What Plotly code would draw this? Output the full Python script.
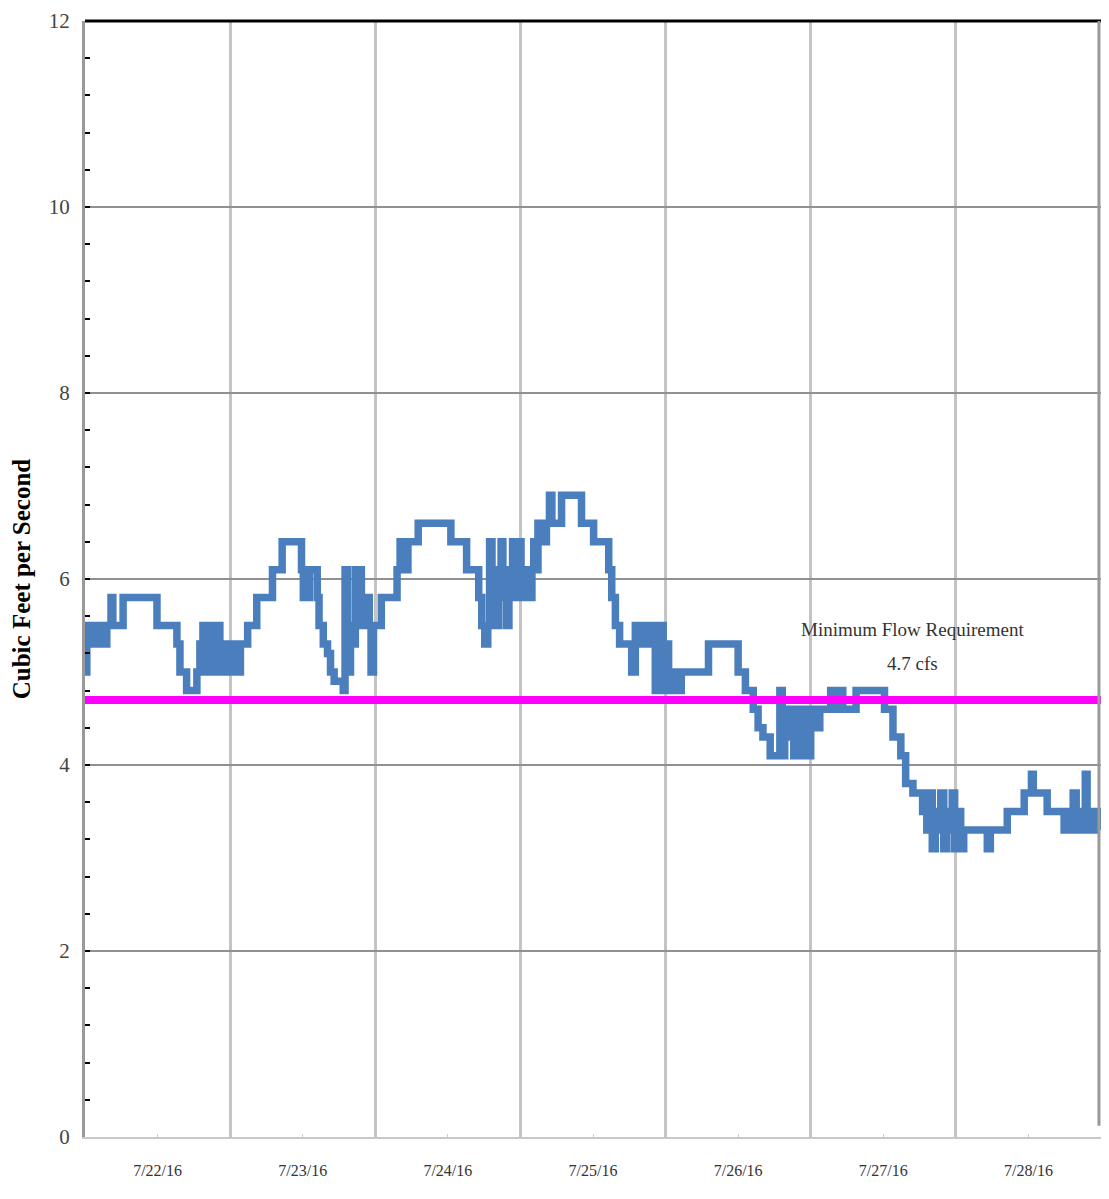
import pandas as pd
import plotly.graph_objects as go

# Hours after 2016-07-22 00:00 and flow in cubic feet per second (step series)
hours = [0, 0.3, 0.7, 1.0, 1.3, 1.6, 2.1, 2.6, 3.1, 3.6, 4.3, 4.6, 6.3, 11.9, 15.2, 15.7, 16.8,
         18.5, 19.0, 19.5, 20.1, 20.6, 21.1, 21.8, 22.3, 22.8, 23.2, 23.7, 24.4, 25.1, 25.7,
         26.9, 28.4, 31.0, 32.6, 35.8, 36.1, 36.4, 36.8, 37.1, 38.4, 38.7, 39.4, 40.1, 40.6,
         41.2, 42.7, 43.0, 43.4, 43.9, 44.4, 44.7, 45.0, 45.3, 45.7, 46.0, 46.5, 47.0, 47.3,
         47.7, 48.1, 49.0, 51.6, 52.1, 52.4, 52.8, 53.1, 53.4, 55.1, 60.5, 63.1, 65.1, 65.6,
         66.1, 66.6, 66.9, 67.3, 67.8, 68.1, 68.4, 68.8, 69.1, 69.4, 69.7, 70.1, 70.4, 70.7,
         71.1, 71.4, 71.7, 72.1, 72.4, 72.7, 73.0, 73.4, 73.9, 74.2, 74.5, 74.9, 75.2, 75.5,
         76.0, 76.3, 76.8, 77.2, 78.8, 82.1, 84.1, 86.6, 87.1, 87.7, 88.4, 90.4, 91.0, 91.7,
         92.3, 93.2, 93.7, 94.3, 94.6, 95.0, 95.3, 95.6, 96.1, 96.5, 97.0, 97.3, 97.8, 98.1,
         98.6, 103.1, 108.0, 109.2, 110.5, 111.3, 112.1, 113.3, 114.9, 115.3, 115.7, 116.2,
         116.7, 117.2, 117.7, 118.2, 118.7, 119.2, 119.5, 120.0, 120.5, 121.0, 121.5, 123.3,
         123.8, 124.3, 125.3, 127.5, 132.2, 133.6, 134.9, 135.7, 136.9, 138.5, 139.2, 139.7,
         140.1, 140.6, 141.1, 141.5, 142.0, 142.5, 143.0, 143.4, 143.8, 144.3, 144.8, 145.3,
         149.2, 149.7, 152.5, 155.3, 156.5, 156.8, 159.1, 161.9, 162.4, 162.9, 163.4, 163.9,
         164.4, 164.9, 165.4, 165.7, 166.2, 166.7, 167.2, 167.8]
flow = [5.0, 5.5, 5.3, 5.5, 5.3, 5.5, 5.3, 5.5, 5.3, 5.5, 5.8, 5.5, 5.8, 5.5, 5.3, 5.0, 4.8,
        5.0, 5.3, 5.5, 5.0, 5.5, 5.0, 5.5, 5.3, 5.0, 5.3, 5.0, 5.3, 5.0, 5.3,
        5.5, 5.8, 6.1, 6.4, 6.1, 5.8, 6.1, 5.8, 6.1, 5.8, 5.5, 5.3, 5.2, 5.0,
        4.9, 4.8, 6.1, 5.0, 5.5, 5.3, 6.1, 5.5, 6.1, 5.8, 5.5, 5.8, 5.5, 5.0,
        5.5, 5.5, 5.8, 6.1, 6.4, 6.1, 6.4, 6.1, 6.4, 6.6, 6.4, 6.1, 5.8, 5.5,
        5.3, 5.5, 6.4, 5.8, 6.1, 5.5, 6.1, 6.4, 5.8, 6.1, 5.5, 6.1, 5.8, 6.4,
        5.8, 6.1, 6.4, 5.8, 6.1, 5.8, 6.1, 5.8, 6.1, 6.4, 6.1, 6.6, 6.4, 6.6,
        6.4, 6.6, 6.9, 6.6, 6.9, 6.6, 6.4, 6.1, 5.8, 5.5, 5.3, 5.0, 5.5, 5.3,
        5.5, 5.3, 5.5, 4.8, 5.3, 4.8, 5.5, 4.8, 5.3, 4.8, 5.0, 4.8, 5.0, 4.8,
        5.0, 5.3, 5.0, 4.8, 4.6, 4.4, 4.3, 4.1, 4.8, 4.1, 4.6, 4.3,
        4.6, 4.1, 4.6, 4.1, 4.4, 4.6, 4.1, 4.4, 4.6, 4.4, 4.6, 4.8,
        4.6, 4.8, 4.6, 4.8, 4.6, 4.3, 4.1, 3.8, 3.7, 3.5, 3.3, 3.7,
        3.1, 3.5, 3.3, 3.7, 3.1, 3.5, 3.3, 3.7, 3.1, 3.5, 3.1, 3.3,
        3.1, 3.3, 3.5, 3.7, 3.9, 3.7, 3.5, 3.3, 3.5, 3.3, 3.7, 3.3,
        3.5, 3.3, 3.9, 3.3, 3.5, 3.3, 3.5, 3.3]

min_flow = 4.7
day_labels = ["7/22/16", "7/23/16", "7/24/16", "7/25/16", "7/26/16", "7/27/16", "7/28/16"]
y_ticks = [0, 2, 4, 6, 8, 10, 12]

start = pd.Timestamp("2016-07-22 00:00")
end = pd.Timestamp("2016-07-29 00:00")
times = [start + pd.Timedelta(hours=h) for h in hours]
label_pos = [start + pd.Timedelta(days=i, hours=12) for i in range(len(day_labels))]

serif = "Liberation Serif, Times New Roman, serif"

fig = go.Figure()
fig.add_trace(go.Scatter(
    x=times, y=flow, mode="lines", line=dict(color="#4a7ebd", width=7.5, shape="hv"),
    showlegend=False))
fig.add_trace(go.Scatter(
    x=[start, end], y=[min_flow, min_flow], mode="lines",
    line=dict(color="#ff00ff", width=8), showlegend=False))

fig.update_layout(
    width=1093, height=1183,
    margin=dict(l=77, r=0, t=13, b=54),
    paper_bgcolor="white", plot_bgcolor="white",
    font=dict(family=serif, color="#333333"),
    xaxis=dict(
        type="date", range=[start, end], automargin=False,
        tickmode="array", tickvals=label_pos, ticktext=day_labels,
        tickfont=dict(size=16, family=serif, color="#333333"),
        ticks="inside", ticklen=3, tickcolor="#cccccc", tickwidth=1,
        ticklabelstandoff=18,
        showgrid=False, zeroline=False,
        showline=True, linecolor="#c8c8c8", linewidth=2,
        minor=dict(tick0=start, dtick=86400000, showgrid=True,
                   gridcolor="#c4c4c4", gridwidth=2.5, ticks=""),
    ),
    yaxis=dict(
        range=[0, 12], automargin=False, tickmode="array", tickvals=y_ticks,
        tickfont=dict(size=21, family=serif, color="#444444"),
        ticklabeloverflow="allow",
        ticks="inside", ticklen=5, tickwidth=2, tickcolor="black",
        ticklabelstandoff=8,
        showgrid=True, gridcolor="#909090", gridwidth=1.5,
        zeroline=False,
        showline=True, linecolor="#999999", linewidth=3,
        minor=dict(dtick=0.4, ticks="inside", ticklen=5, tickwidth=2,
                   tickcolor="black", showgrid=False),
        title=dict(text="<b>Cubic Feet per Second</b>",
                   font=dict(size=25, family=serif, color="black"), standoff=14),
    ),
    shapes=[
        dict(type="line", xref="paper", yref="paper", x0=0, x1=1, y0=1, y1=1,
             line=dict(color="black", width=3)),
        dict(type="line", xref="paper", yref="paper", x0=0.998, x1=0.998, y0=0.01, y1=1,
             line=dict(color="#999999", width=3)),
    ],
    annotations=[
        dict(xref="paper", yref="y", x=0.814, y=5.46, xanchor="center", yanchor="middle",
             text="Minimum Flow Requirement", showarrow=False,
             font=dict(size=19, family=serif, color="#333333")),
        dict(xref="paper", yref="y", x=0.814, y=5.09, xanchor="center", yanchor="middle",
             text="4.7 cfs", showarrow=False,
             font=dict(size=19, family=serif, color="#333333")),
    ],
)

fig.write_html("out.html")
